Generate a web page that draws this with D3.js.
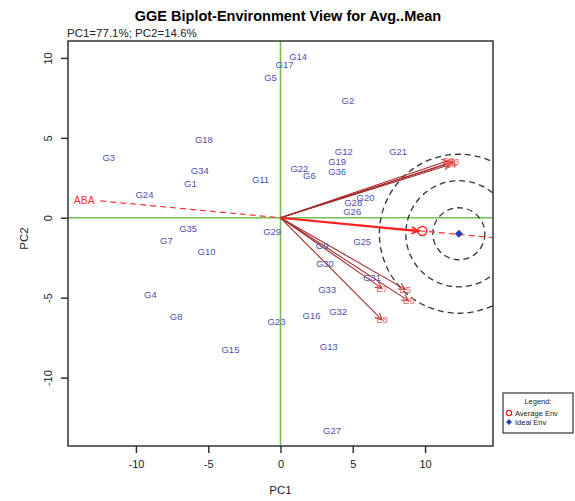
<!DOCTYPE html>
<html><head><meta charset="utf-8">
<script src="https://cdn.jsdelivr.net/npm/d3@7"></script>
<style>body{margin:0;background:#fff;} svg{font-family:"Liberation Sans",Arial,sans-serif;}</style>
</head><body>
<svg id="c" width="575" height="501"></svg>
<script>
// ---- data ----
const genotypes = ["G1","G2","G3","G4","G5","G6","G7","G8","G9","G10","G11","G12","G13","G14","G15","G16","G17","G18","G19","G20","G21","G22","G23","G24","G25","G26","G27","G28","G29","G30","G31","G32","G33","G34","G35","G36"];
const genoPC1 = [-6.23,4.66,-11.88,-9.0,-0.69,2.0,-7.89,-7.22,2.88,-5.12,-1.38,4.38,3.34,1.22,-3.46,2.15,0.28,-5.3,3.92,5.88,8.14,1.31,-0.28,-9.41,5.65,4.96,3.57,5.03,-0.58,3.07,6.34,3.99,3.23,-5.58,-6.39,3.92];
const genoPC2 = [2.12,7.33,3.75,-4.79,8.79,2.66,-1.42,-6.21,-1.73,-2.09,2.39,4.16,-8.09,10.1,-8.23,-6.09,9.58,4.89,3.54,1.25,4.16,3.08,-6.5,1.46,-1.46,0.41,-13.29,0.98,-0.88,-2.88,-3.75,-5.88,-4.48,2.96,-0.67,2.87];
const envs = ["E1","E2","E3","E4","E5","E6","E7","E8"];
const envPC1 = [11.83,11.63,11.97,11.76,8.63,8.87,7.02,7.02];
const envPC2 = [3.46,3.58,3.52,3.33,-4.48,-5.2,-4.42,-6.39];
const avgEnv = [9.81,-0.83];
const idealEnv = [12.34,-1.0];
const circleRadii = [1.8,3.67,5.5];
const aeaExtent = [-12.46,14.7];
const aeaLabel = "ABA";
const xTicks = [-10,-5,0,5,10];
const yTicks = [-10,-5,0,5,10];
const title = "GGE Biplot-Environment View for Avg..Mean";
const subtitle = "PC1=77.1%; PC2=14.6%";
const legendItems = ["Average Env","Ideal Env"];

// ---- chart ----
const svg = d3.select("#c");
const L=68,R=493,T=41,B=446;
const x = d3.scaleLinear().domain([-14.7,14.7]).range([L,R]);
const y = d3.scaleLinear().domain([-14.28,11.06]).range([B,T]);

const defs = svg.append("defs");
defs.append("clipPath").attr("id","clip").append("rect").attr("x",L).attr("y",T).attr("width",R-L).attr("height",B-T);
function mk(id,col,w){
  defs.append("marker").attr("id",id).attr("viewBox","-10 -6 12 12").attr("refX",0).attr("refY",0)
    .attr("markerWidth",10).attr("markerHeight",10).attr("markerUnits","userSpaceOnUse").attr("orient","auto")
    .append("path").attr("d","M-8,-4 L0,0 L-8,4").attr("fill","none").attr("stroke",col).attr("stroke-width",w);
}
mk("ab","#a52a2a",1.2); mk("ar","#ff2020",2);

svg.append("text").attr("x",288).attr("y",20.5).attr("text-anchor","middle").attr("font-weight","bold").attr("font-size",14.5).text(title);
svg.append("text").attr("x",67).attr("y",36.5).attr("font-size",11.5).attr("fill","#222").text(subtitle);

const g = svg.append("g").attr("clip-path","url(#clip)");
// zero lines
g.append("line").attr("x1",x(0)).attr("x2",x(0)).attr("y1",T).attr("y2",B).attr("stroke","#72c150").attr("stroke-width",1.6);
g.append("line").attr("x1",L).attr("x2",R).attr("y1",y(0)).attr("y2",y(0)).attr("stroke","#72c150").attr("stroke-width",1.6);

// concentric circles around ideal
g.selectAll(".circ").data(circleRadii).join("circle")
  .attr("cx",x(idealEnv[0])).attr("cy",y(idealEnv[1]))
  .attr("r",d=>x(d)-x(0)).attr("fill","none").attr("stroke","#333").attr("stroke-width",1.3).attr("stroke-dasharray","6,4");

// average environment axis (dashed)
const slope = avgEnv[1]/avgEnv[0];
g.append("line").attr("x1",x(aeaExtent[0])).attr("y1",y(aeaExtent[0]*slope))
  .attr("x2",x(aeaExtent[1])).attr("y2",y(aeaExtent[1]*slope))
  .attr("stroke","#ff3030").attr("stroke-width",1.2).attr("stroke-dasharray","6,4");
svg.append("text").attr("x",x(aeaExtent[0])-16).attr("y",y(aeaExtent[0]*slope)+3.5).attr("text-anchor","middle")
  .attr("font-size",10.5).attr("fill","#ff3030").text(aeaLabel);

// environment vectors
const envData = envs.map((n,i)=>({n,px:envPC1[i],py:envPC2[i]}));
g.selectAll(".ev").data(envData).join("line")
  .attr("x1",x(0)).attr("y1",y(0)).attr("x2",d=>x(d.px)).attr("y2",d=>y(d.py))
  .attr("stroke","#a52a2a").attr("stroke-width",1.1).attr("marker-end","url(#ab)");
g.selectAll(".el").data(envData).join("text")
  .attr("x",d=>x(d.px)).attr("y",d=>y(d.py)+3.5).attr("text-anchor","middle")
  .attr("font-size",9.5).attr("fill","#f26060").text(d=>d.n);

// average env arrow
g.append("line").attr("x1",x(0)).attr("y1",y(0)).attr("x2",x(avgEnv[0])-4).attr("y2",y(avgEnv[1]))
  .attr("stroke","#ff2020").attr("stroke-width",2.2).attr("marker-end","url(#ar)");
g.append("circle").attr("cx",x(avgEnv[0])).attr("cy",y(avgEnv[1])).attr("r",4.5).attr("fill","none").attr("stroke","#ff2020").attr("stroke-width",1.5);
// ideal
const dsz=4;
g.append("path").attr("d",`M${x(idealEnv[0])},${y(idealEnv[1])-dsz}l${dsz},${dsz}l${-dsz},${dsz}l${-dsz},${-dsz}z`).attr("fill","#2a3fb0");

// genotype labels
g.selectAll(".gl").data(genotypes.map((n,i)=>({n,px:genoPC1[i],py:genoPC2[i]}))).join("text")
  .attr("x",d=>x(d.px)).attr("y",d=>y(d.py)+3.4).attr("text-anchor","middle")
  .attr("font-size",9.5).attr("fill","#4f4fb0").text(d=>d.n);

// frame
svg.append("rect").attr("x",L).attr("y",T).attr("width",R-L).attr("height",B-T).attr("fill","none").attr("stroke","#333").attr("stroke-width",1.5);

// axes
const fmt = d=>String(d);
const xa = svg.append("g").attr("transform",`translate(0,${B})`).call(d3.axisBottom(x).tickValues(xTicks).tickSize(7).tickFormat(fmt));
const ya = svg.append("g").attr("transform",`translate(${L},0)`).call(d3.axisLeft(y).tickValues(yTicks).tickSize(7).tickFormat(fmt));
[xa,ya].forEach(a=>{a.select(".domain").remove();a.selectAll("line").attr("stroke","#333").attr("stroke-width",1.5);a.selectAll("text").attr("font-size",11).attr("fill","#222").attr("font-family","Liberation Sans, Arial, sans-serif");});
xa.selectAll("text").attr("y",14);
ya.selectAll("text").attr("transform","translate(-20,0) rotate(-90)").attr("x",0).attr("y",0).attr("dy","0.35em").attr("text-anchor","middle");

svg.append("text").attr("x",x(0)).attr("y",494).attr("text-anchor","middle").attr("font-size",11.5).attr("fill","#222").text("PC1");
svg.append("text").attr("transform",`translate(28,${(T+B)/2-5}) rotate(-90)`).attr("text-anchor","middle").attr("font-size",11.5).attr("fill","#222").text("PC2");

// legend
const lg = svg.append("g");
lg.append("rect").attr("x",503).attr("y",393).attr("width",70).attr("height",40).attr("fill","#fff").attr("stroke","#333").attr("stroke-width",1.2);
lg.append("text").attr("x",538).attr("y",404).attr("text-anchor","middle").attr("font-size",7.5).attr("fill","#222").text("Legend:");
lg.append("circle").attr("cx",509).attr("cy",413).attr("r",2.6).attr("fill","none").attr("stroke","#ff2020").attr("stroke-width",1.3);
lg.append("path").attr("d","M509,419l3,3l-3,3l-3,-3z").attr("fill","#2a3fb0");
lg.selectAll(".lt").data(legendItems).join("text").attr("x",515).attr("y",(d,i)=>415.5+i*9).attr("font-size",7.5).attr("fill","#222").text(d=>d);
</script>
</body></html>
